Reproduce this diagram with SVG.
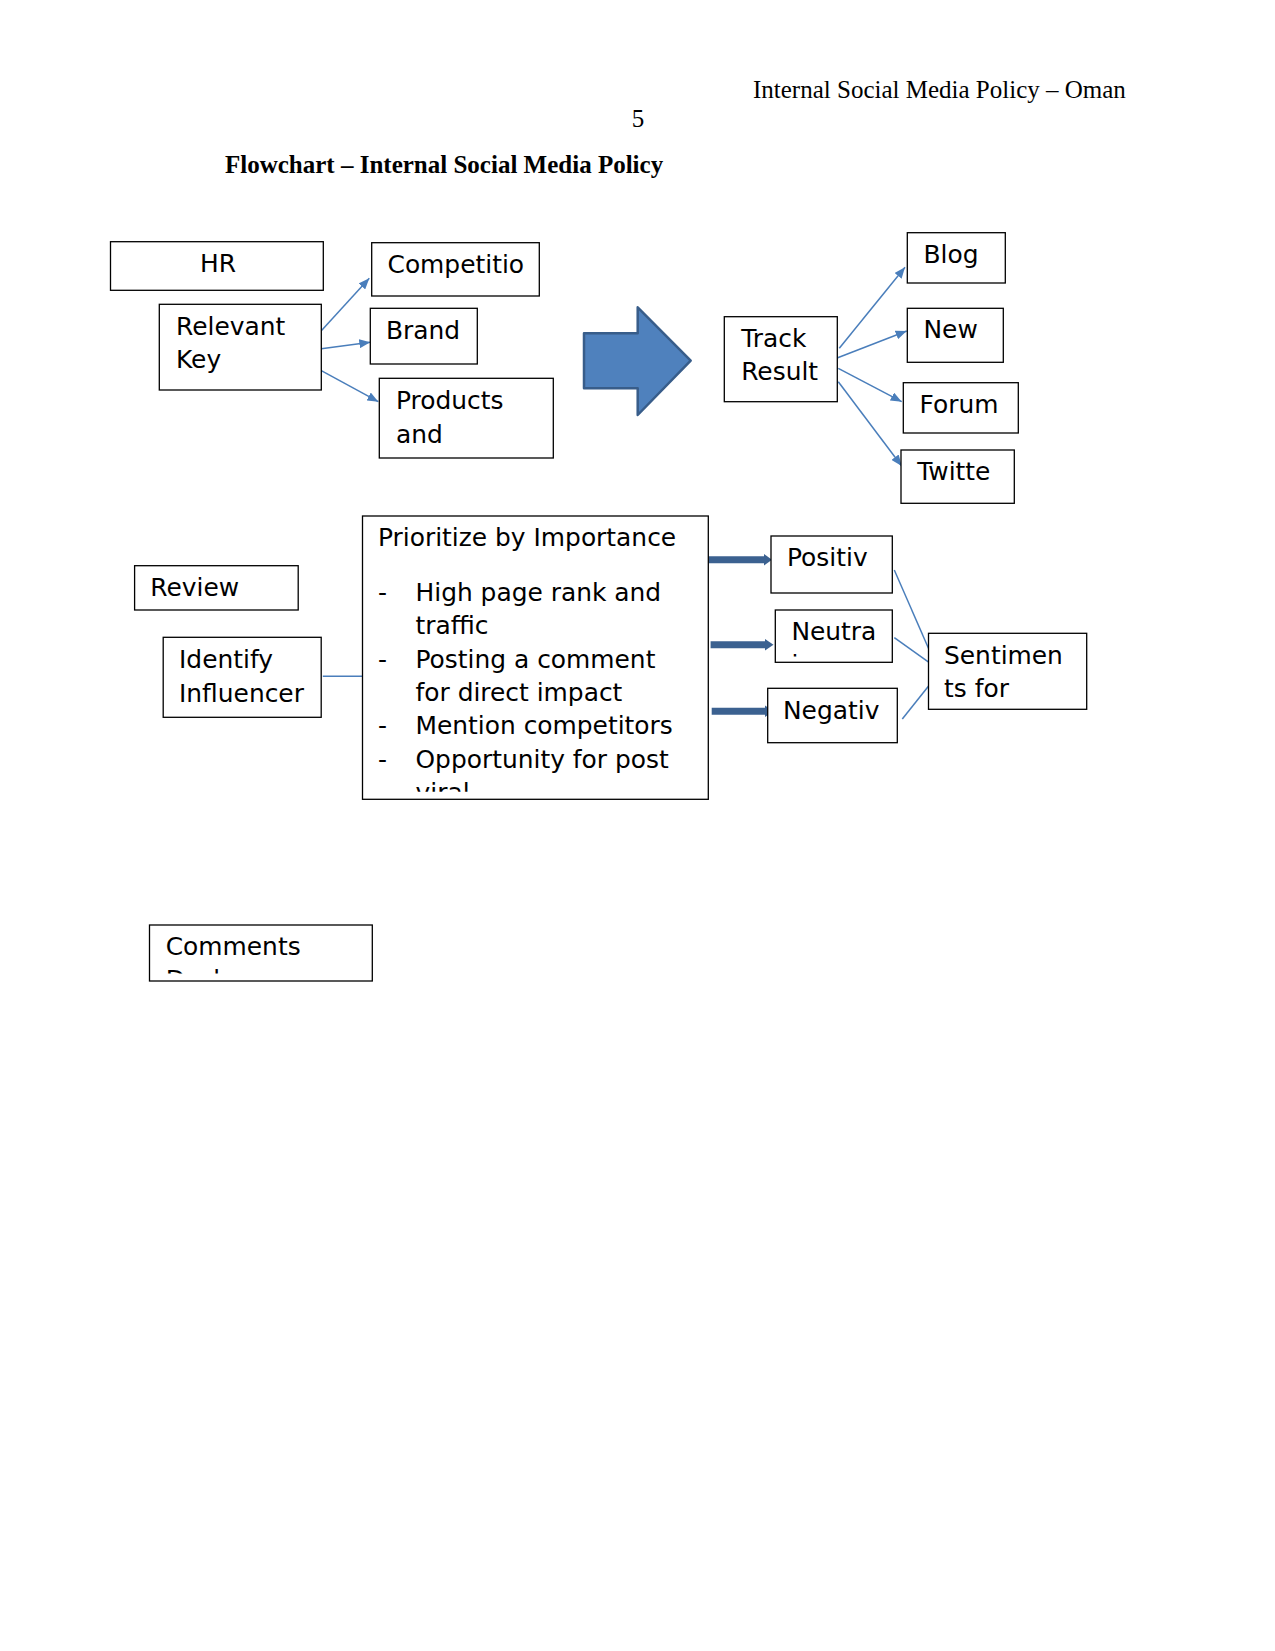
<svg xmlns="http://www.w3.org/2000/svg" width="1275" height="1651" viewBox="0 0 1275 1651">
<style>
.box{fill:#ffffff;stroke:#000000;stroke-width:1.3}
.t{font-family:"DejaVu Sans",Verdana,sans-serif;font-size:24.9px;fill:#000000}
.hdr{font-family:"Liberation Serif","Times New Roman",serif;font-size:25px;fill:#000000}
.conn{fill:none;stroke:#4A7EBB;stroke-width:1.5}
.thick{fill:none;stroke:#3B6190;stroke-width:7}
.thickhead{fill:#3B6190}
</style>
<defs>
<marker id="ah" markerUnits="userSpaceOnUse" markerWidth="11" markerHeight="9" refX="11" refY="4.5" orient="auto">
<path d="M0,0 L11,4.5 L0,9 z" fill="#4A7EBB"/>
</marker>
<clipPath id="clipViral"><rect x="363" y="517" width="345" height="274.7"/></clipPath>
<clipPath id="clipNeutral"><rect x="776" y="611" width="116" height="45.5"/></clipPath>
<clipPath id="clipComments"><rect x="150" y="925" width="222" height="48.5"/></clipPath>
</defs>
<rect width="1275" height="1651" fill="#ffffff"/>

<g id="header">
<text class="hdr" x="753" y="98">Internal Social Media Policy – Oman</text>
<text class="hdr" x="638" y="127" text-anchor="middle">5</text>
<text class="hdr" x="225" y="173" font-weight="bold">Flowchart – Internal Social Media Policy</text>
</g>

<g id="connectors">
<line class="conn" x1="321.3" y1="330.7" x2="369.3" y2="278.3" marker-end="url(#ah)"/>
<line class="conn" x1="321.3" y1="348.7" x2="370.3" y2="342.3" marker-end="url(#ah)"/>
<line class="conn" x1="321.3" y1="370.7" x2="378.3" y2="401.7" marker-end="url(#ah)"/>
<line class="conn" x1="839.3" y1="348.3" x2="905" y2="267.3" marker-end="url(#ah)"/>
<line class="conn" x1="837.7" y1="357.7" x2="906.7" y2="331" marker-end="url(#ah)"/>
<line class="conn" x1="838.3" y1="368.3" x2="901.7" y2="401.7" marker-end="url(#ah)"/>
<line class="conn" x1="838.3" y1="381.7" x2="901.7" y2="466" marker-end="url(#ah)"/>
<line class="conn" x1="322.8" y1="676.3" x2="363" y2="676.3"/>
<line class="thick" x1="708.5" y1="559.7" x2="765" y2="559.7"/>
<polygon class="thickhead" points="764,554 772,559.7 764,565.4"/>
<line class="thick" x1="710.6" y1="644.7" x2="766" y2="644.7"/>
<polygon class="thickhead" points="765,639 773.5,644.7 765,650.4"/>
<line class="thick" x1="711.7" y1="711.3" x2="766" y2="711.3"/>
<polygon class="thickhead" points="765,705.6 773.5,711.3 765,717"/>
<line class="conn" x1="894.3" y1="570" x2="930" y2="651.7"/>
<line class="conn" x1="894.3" y1="637.7" x2="929.3" y2="662.7"/>
<line class="conn" x1="902.3" y1="719" x2="930" y2="684.3"/>
</g>

<g id="big-arrow">
<polygon points="584,333.3 637.7,333.3 637.7,307.3 690.7,360.7 637.7,415 637.7,388.3 584,388.3" fill="#4F81BD" stroke="#385D8A" stroke-width="2.5" stroke-linejoin="round"/>
</g>

<g id="node-hr">
<rect class="box" x="110.5" y="241.7" width="212.8" height="48.6"/>
<text class="t" x="218" y="272.3" text-anchor="middle">HR</text>
</g>
<g id="node-relevant-key">
<rect class="box" x="159.3" y="304.3" width="162" height="85.7"/>
<text class="t" x="176" y="334.8">Relevant</text>
<text class="t" x="176" y="368">Key</text>
</g>
<g id="node-competitio">
<rect class="box" x="371.7" y="242.7" width="167.6" height="53.3"/>
<text class="t" x="387.5" y="273.3">Competitio</text>
</g>
<g id="node-brand">
<rect class="box" x="370.3" y="308.3" width="107" height="55.7"/>
<text class="t" x="386" y="338.8">Brand</text>
</g>
<g id="node-products">
<rect class="box" x="379.3" y="378.3" width="174" height="79.7"/>
<text class="t" x="396" y="408.8">Products</text>
<text class="t" x="396" y="442.8">and</text>
</g>
<g id="node-track">
<rect class="box" x="724.3" y="316.7" width="113" height="85"/>
<text class="t" x="741.2" y="346.7">Track</text>
<text class="t" x="741.2" y="379.8">Result</text>
</g>
<g id="node-blog">
<rect class="box" x="907.3" y="232.7" width="98" height="50.3"/>
<text class="t" x="923.5" y="262.7">Blog</text>
</g>
<g id="node-new">
<rect class="box" x="907.3" y="308.3" width="96" height="54"/>
<text class="t" x="923.5" y="338.3">New</text>
</g>
<g id="node-forum">
<rect class="box" x="903.3" y="382.7" width="115" height="50.3"/>
<text class="t" x="919.5" y="412.7">Forum</text>
</g>
<g id="node-twitte">
<rect class="box" x="901" y="450" width="113.3" height="53.3"/>
<text class="t" x="917.2" y="480">Twitte</text>
</g>
<g id="node-review">
<rect class="box" x="134.6" y="565.7" width="163.6" height="44.3"/>
<text class="t" x="150.3" y="596">Review</text>
</g>
<g id="node-identify">
<rect class="box" x="163.2" y="637.3" width="158" height="80"/>
<text class="t" x="179" y="667.7">Identify</text>
<text class="t" x="179" y="701.7">Influencer</text>
</g>
<g id="node-prioritize">
<rect class="box" x="362.5" y="516" width="345.8" height="283.3"/>
<g clip-path="url(#clipViral)">
<text class="t" x="378" y="546">Prioritize by Importance</text>
<text class="t" x="378" y="600.7">-</text>
<text class="t" x="415.5" y="600.7">High page rank and</text>
<text class="t" x="415.5" y="634">traffic</text>
<text class="t" x="378" y="667.7">-</text>
<text class="t" x="415.5" y="667.7">Posting a comment</text>
<text class="t" x="415.5" y="700.7">for direct impact</text>
<text class="t" x="378" y="734.3">-</text>
<text class="t" x="415.5" y="734.3">Mention competitors</text>
<text class="t" x="378" y="767.7">-</text>
<text class="t" x="415.5" y="767.7">Opportunity for post</text>
<text class="t" x="415.5" y="801.1">viral</text>
</g>
</g>
<g id="node-positiv">
<rect class="box" x="771" y="536" width="121.3" height="57"/>
<text class="t" x="787" y="566">Positiv</text>
</g>
<g id="node-neutral">
<rect class="box" x="775.3" y="610" width="117" height="52.3"/>
<g clip-path="url(#clipNeutral)">
<text class="t" x="791.4" y="640">Neutra</text>
<text class="t" x="791.4" y="673.4">l</text>
</g>
</g>
<g id="node-negativ">
<rect class="box" x="767.7" y="688.3" width="129.6" height="54.4"/>
<text class="t" x="783" y="719">Negativ</text>
</g>
<g id="node-sentiments">
<rect class="box" x="928.5" y="633.3" width="158.2" height="76"/>
<text class="t" x="944" y="664.3">Sentimen</text>
<text class="t" x="944" y="696.5">ts for</text>
</g>
<g id="node-comments">
<rect class="box" x="149.5" y="925" width="222.8" height="56"/>
<g clip-path="url(#clipComments)">
<text class="t" x="165.7" y="954.8">Comments</text>
<text class="t" x="165.7" y="987.7">Desk</text>
</g>
</g>
</svg>
